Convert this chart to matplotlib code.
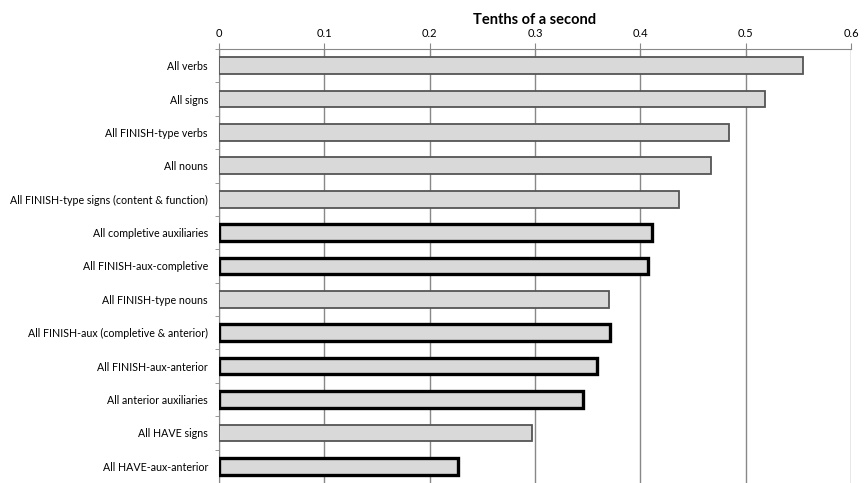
import matplotlib.pyplot as plt
import numpy as np

labels = ["All verbs", "All signs", "All FINISH-type verbs", "All nouns",
          "All FINISH-type signs (content & function)", "All completive auxiliaries",
          "All FINISH-aux-completive", "All FINISH-type nouns",
          "All FINISH-aux (completive & anterior)", "All FINISH-aux-anterior",
          "All anterior auxiliaries", "All HAVE signs", "All HAVE-aux-anterior"]
values = [0.554, 0.518, 0.484, 0.467, 0.437, 0.411, 0.407, 0.370,
          0.371, 0.359, 0.346, 0.297, 0.227]
auxiliary = [False, False, False, False, False, True, True, False,
             True, True, True, False, True]

plt.rcParams['font.family'] = ['Lato', 'DejaVu Sans']

fig = plt.figure(figsize=(8.64, 4.83), dpi=100)
ax = fig.add_axes([0.2535, 0.0, 0.7315, 0.8986])

y = np.arange(len(labels))
for i in range(len(labels)):
    if auxiliary[i]:
        ax.barh(y[i], values[i], height=0.5, color='#d9d9d9', edgecolor='black',
                linewidth=2.4, zorder=3)
    else:
        ax.barh(y[i], values[i], height=0.5, color='#d9d9d9', edgecolor='#555555',
                linewidth=1.3, zorder=3)

ax.set_xlim(0, 0.6)
ax.set_ylim(len(labels) - 0.5, -0.5)
ax.xaxis.tick_top()
ax.xaxis.set_label_position('top')
ax.set_xticks([0, 0.1, 0.2, 0.3, 0.4, 0.5, 0.6])
ax.set_xticklabels(['0', '0.1', '0.2', '0.3', '0.4', '0.5', '0.6'], fontsize=8)
ax.set_xlabel('Tenths of a second', fontsize=10.5, fontweight='bold', labelpad=3)
ax.tick_params(axis='x', length=4, color='#888888', pad=3)

ax.set_yticks(y)
ax.set_yticklabels(labels, fontsize=7.7)
ax.set_yticks(np.arange(len(labels) + 1) - 0.5, minor=True)
ax.tick_params(axis='y', which='major', length=0, pad=8)
ax.tick_params(axis='y', which='minor', length=3, color='#888888')

ax.grid(axis='x', color='#888888', linewidth=1, zorder=0)
ax.set_axisbelow(True)
for s in ['right', 'bottom']:
    ax.spines[s].set_visible(False)
ax.spines['top'].set_color('#888888')
ax.spines['left'].set_color('#888888')

fig.savefig('out.png', dpi=100)
